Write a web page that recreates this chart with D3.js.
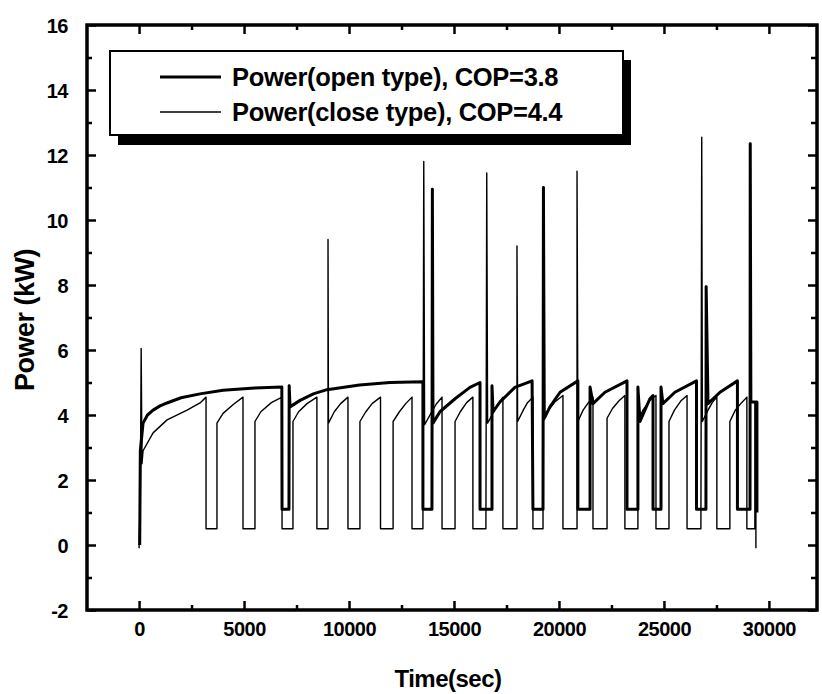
<!DOCTYPE html>
<html>
<head>
<meta charset="utf-8">
<script src="https://cdn.jsdelivr.net/npm/d3@7/dist/d3.min.js"></script>
<style>
  html, body { margin: 0; padding: 0; background: #fff; }
  svg { display: block; }
  text { font-family: "Liberation Sans", Arial, sans-serif; font-weight: bold; fill: #000; }
</style>
</head>
<body>
<script>
// ---- data ----
const seriesNames = ["Power(open type), COP=3.8", "Power(close type), COP=4.4"];

const openT = [30, 60, 190, 400, 667, 1000, 1333, 2000, 2900, 4000, 5500, 6800, 6810, 7140, 7150, 7190, 7670, 8300, 8950, 10500, 11950, 13520,
  13520, 13950, 13970, 14000, 14330, 15050, 15760, 16240, 16240, 16810, 16810, 16860, 17190, 17900, 18720,
  18760, 19240, 19260, 19300, 19570, 20050, 20900, 20900, 21480, 21480, 21620, 22190, 23240, 23240, 23760,
  23760, 23860, 24330, 24480, 24480, 24860, 24860, 24950, 25520, 26550, 26550, 27000, 27010, 27100, 27670,
  28500, 28500, 29100, 29110, 29140, 29430, 29430];
const openP = [0, 2.9, 3.75, 4.0, 4.15, 4.28, 4.37, 4.53, 4.65, 4.76, 4.83, 4.86, 1.1, 1.1, 4.9, 4.25, 4.45, 4.65, 4.78, 4.92, 5.0, 5.02,
  1.1, 1.1, 10.95, 3.75, 4.1, 4.5, 4.85, 5.0, 1.1, 1.1, 4.9, 4.1, 4.4, 4.85, 5.05,
  1.1, 1.1, 11.0, 3.9, 4.25, 4.7, 5.05, 1.1, 1.1, 4.86, 4.35, 4.7, 5.05, 1.1, 1.1,
  4.86, 3.8, 4.5, 4.6, 1.1, 1.1, 4.86, 4.35, 4.7, 5.05, 1.1, 1.1, 7.95, 4.35, 4.7,
  5.05, 1.1, 1.1, 12.35, 4.4, 4.4, 1.0];

const closeT = [0, 60, 100, 140, 190, 667, 1333, 2286, 2905, 3190, 3190, 3710, 3710, 4000, 4500, 4950,
  4950, 5520, 5520, 5800, 6300, 6810, 6810, 7330, 7330, 7600, 8000, 8470, 8470, 9000, 9000, 9020, 9300,
  9600, 9950, 9950, 10520, 10520, 10800, 11100, 11500, 11500, 12100, 12100, 12400, 12700, 13000, 13000,
  13520, 13560, 13600, 13900, 14150, 14430, 14430, 15050, 15050, 15300, 15600, 15900, 15900, 16520, 16560,
  16600, 16900, 17100, 17330, 17330, 18000, 18000, 18030, 18300, 18500, 18760, 18760, 19240, 19240, 19500,
  19800, 20190, 20190, 20860, 20860, 20900, 21150, 21400, 21620, 21620, 22290, 22290, 22550, 22850, 23140,
  23140, 23760, 23760, 24000, 24300, 24620, 24620, 25240, 25240, 25500, 25800, 26100, 26100, 26760, 26800,
  26830, 27100, 27300, 27520, 27520, 28140, 28140, 28400, 28700, 28950, 28950, 29330, 29330, 29380, 29380];
const closeP = [-0.1, 1.5, 6.05, 2.5, 2.9, 3.45, 3.85, 4.15, 4.37, 4.55, 0.5, 0.5, 3.75, 4.05, 4.33, 4.55,
  0.5, 0.5, 3.8, 4.1, 4.38, 4.55, 0.5, 0.5, 3.8, 4.1, 4.35, 4.55, 0.5, 0.5, 9.4, 3.75, 4.1,
  4.35, 4.55, 0.5, 0.5, 3.8, 4.1, 4.35, 4.55, 0.5, 0.5, 3.8, 4.1, 4.35, 4.55, 0.5,
  0.5, 11.8, 3.7, 4.05, 4.33, 4.55, 0.5, 0.5, 3.8, 4.1, 4.38, 4.55, 0.5, 0.5, 11.45,
  3.75, 4.1, 4.35, 4.55, 0.5, 0.5, 9.2, 3.8, 4.15, 4.38, 4.55, 0.5, 0.5, 3.8, 4.15,
  4.4, 4.6, 0.5, 0.5, 11.5, 3.8, 4.15, 4.38, 4.55, 0.5, 0.5, 3.9, 4.2, 4.43, 4.6,
  0.5, 0.5, 3.8, 4.15, 4.43, 4.6, 0.5, 0.5, 3.8, 4.15, 4.43, 4.6, 0.5, 0.5, 12.55,
  3.8, 4.15, 4.38, 4.55, 0.5, 0.5, 3.8, 4.15, 4.38, 4.55, 0.5, 0.5, 4.4, 4.4, -0.1];

const xTickValues = [0, 5000, 10000, 15000, 20000, 25000, 30000];
const xMinorValues = [-2500, 2500, 7500, 12500, 17500, 22500, 27500, 32500];
const yTickValues = [-2, 0, 2, 4, 6, 8, 10, 12, 14, 16];
const yMinorValues = [-1, 1, 3, 5, 7, 9, 11, 13, 15];
const xTitle = "Time(sec)";
const yTitle = "Power (kW)";

// ---- drawing ----
const W = 822, H = 694;
const L = 87, R = 817, T = 25, B = 610;

const svg = d3.select("body").append("svg").attr("width", W).attr("height", H);

const x = d3.scaleLinear().domain([-2480, 32290]).range([L, R]);
const y = d3.scaleLinear().domain([-2, 16]).range([B, T]);

const openData = openT.map((t, i) => [t, openP[i]]);
const closeData = closeT.map((t, i) => [t, closeP[i]]);

const line = d3.line().x(d => x(d[0])).y(d => y(d[1])).curve(d3.curveLinear);

svg.append("clipPath").attr("id", "clip").append("rect")
  .attr("x", L).attr("y", T).attr("width", R - L).attr("height", B - T);

const plot = svg.append("g").attr("clip-path", "url(#clip)");
plot.append("path").datum(closeData).attr("d", line)
  .attr("fill", "none").attr("stroke", "#000").attr("stroke-width", 1.4).attr("stroke-linejoin", "round");
plot.append("path").datum(openData).attr("d", line)
  .attr("fill", "none").attr("stroke", "#000").attr("stroke-width", 3).attr("stroke-linejoin", "round");

// axes (inward ticks on all four sides)
const fmt = d => String(d);
const inside = v => x(v) > L + 2 && x(v) < R - 2;
const xb = svg.append("g").attr("transform", `translate(0,${B})`)
  .call(d3.axisBottom(x).tickValues(xTickValues).tickSize(-9).tickPadding(22).tickFormat(fmt));
const xbm = svg.append("g").attr("transform", `translate(0,${B})`)
  .call(d3.axisBottom(x).tickValues(xMinorValues.filter(inside)).tickSize(-5).tickFormat(""));
const xt = svg.append("g").attr("transform", `translate(0,${T})`)
  .call(d3.axisTop(x).tickValues(xTickValues).tickSize(-9).tickFormat(""));
const xtm = svg.append("g").attr("transform", `translate(0,${T})`)
  .call(d3.axisTop(x).tickValues(xMinorValues.filter(inside)).tickSize(-5).tickFormat(""));
const yl = svg.append("g").attr("transform", `translate(${L},0)`)
  .call(d3.axisLeft(y).tickValues(yTickValues).tickSize(-9).tickPadding(19).tickFormat(fmt));
const ylm = svg.append("g").attr("transform", `translate(${L},0)`)
  .call(d3.axisLeft(y).tickValues(yMinorValues).tickSize(-5).tickFormat(""));
const yr = svg.append("g").attr("transform", `translate(${R},0)`)
  .call(d3.axisRight(y).tickValues(yTickValues).tickSize(-9).tickFormat(""));
const yrm = svg.append("g").attr("transform", `translate(${R},0)`)
  .call(d3.axisRight(y).tickValues(yMinorValues).tickSize(-6).tickFormat(""));

[xb, xbm, xt, xtm, yl, ylm, yr, yrm].forEach(g => {
  g.select(".domain").remove();
  g.selectAll(".tick line").attr("stroke", "#000").attr("stroke-width", 2.5);
  g.selectAll(".tick text").attr("font-size", 20).attr("font-weight", "bold")
    .attr("font-family", "Liberation Sans, Arial, sans-serif").attr("fill", "#000")
    .attr("letter-spacing", -0.5);
});
xb.selectAll(".tick text").attr("dy", "0.2em");
yl.selectAll(".tick text").attr("dy", "0.36em");

// frame
svg.append("rect").attr("x", L).attr("y", T).attr("width", R - L).attr("height", B - T)
  .attr("fill", "none").attr("stroke", "#000").attr("stroke-width", 3.5);

// axis titles
svg.append("text").attr("x", 448).attr("y", 687).attr("text-anchor", "middle")
  .attr("font-size", 24).attr("letter-spacing", -0.5).text(xTitle);
svg.append("text").attr("transform", `translate(34,320) rotate(-90)`).attr("text-anchor", "middle")
  .attr("font-size", 27).attr("letter-spacing", -0.5).text(yTitle);

// legend
const lg = svg.append("g");
lg.append("rect").attr("x", 118).attr("y", 60).attr("width", 513).attr("height", 85).attr("fill", "#000");
lg.append("rect").attr("x", 110).attr("y", 51).attr("width", 513).attr("height", 84)
  .attr("fill", "#fff").attr("stroke", "#000").attr("stroke-width", 2);
const legY = [77, 112];
const legW = [3, 1.4];
seriesNames.forEach((name, i) => {
  lg.append("line").attr("x1", 160).attr("x2", 221).attr("y1", legY[i]).attr("y2", legY[i])
    .attr("stroke", "#000").attr("stroke-width", legW[i]);
  lg.append("text").attr("x", 232).attr("y", legY[i] + 9).attr("font-size", 25.5)
    .attr("letter-spacing", -0.3).text(name);
});
</script>
</body>
</html>
